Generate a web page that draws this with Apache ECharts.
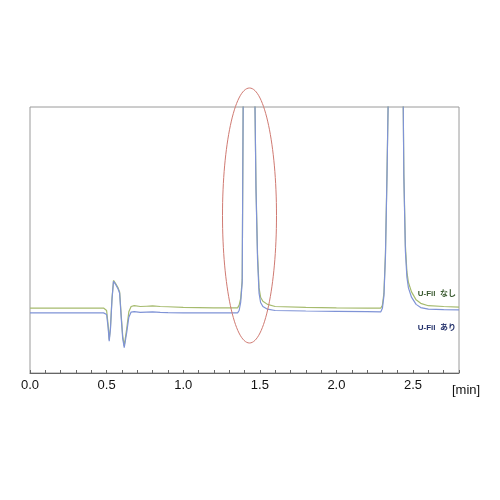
<!DOCTYPE html>
<html>
<head>
<meta charset="utf-8">
<script src="https://cdn.jsdelivr.net/npm/echarts@6/dist/echarts.min.js"></script>
<style>html,body{margin:0;padding:0;background:#fff}#c{width:500px;height:500px}</style>
</head>
<body>
<div id="c"></div>
<script>
// Time axis tick labels
const xTickLabels = ['0.0','0.5','1.0','1.5','2.0','2.5'];
const seriesNames = ['U-Fil  なし', 'U-Fil  あり'];

// U-Fil なし (green) trace: time [min], signal (arbitrary units, top of frame = 100)
const greenT = [0.00,0.48,0.50,0.51,0.517,0.525,0.535,0.545,0.55,0.56,0.575,0.585,0.595,0.605,0.615,0.622,0.632,0.645,0.66,0.68,0.72,0.76,0.80,0.85,0.90,1.00,1.10,1.20,1.30,1.355,1.365,1.375,1.385,1.395,1.43,1.46,1.475,1.485,1.495,1.505,1.52,1.55,1.60,1.80,2.00,2.20,2.29,2.30,2.31,2.32,2.33,2.34,2.39,2.43,2.44,2.45,2.46,2.47,2.49,2.52,2.55,2.60,2.70,2.80];
const greenV = [24.4,24.4,23.5,18,12.5,17,28,34.8,35.2,33.5,32,30.5,22,14,10.2,10.5,17,23,25.0,25.3,25.0,25.1,25.2,25.0,24.9,24.7,24.6,24.5,24.5,24.5,25.5,28,35,140,230,140,70,45,32,28.5,27,25.8,25.0,24.7,24.5,24.4,24.4,25.5,30,45,75,110,260,140,75,48,38,34,30.5,27.5,26.2,25.3,25.0,24.8];

// U-Fil あり (blue) trace
const blueT = [0.00,0.48,0.50,0.51,0.517,0.525,0.535,0.545,0.55,0.56,0.575,0.585,0.595,0.605,0.615,0.622,0.632,0.645,0.66,0.68,0.72,0.76,0.80,0.85,0.90,1.00,1.10,1.20,1.30,1.355,1.365,1.375,1.385,1.395,1.43,1.46,1.475,1.485,1.495,1.505,1.52,1.55,1.60,1.80,2.00,2.20,2.29,2.30,2.31,2.32,2.33,2.34,2.39,2.43,2.44,2.45,2.46,2.47,2.49,2.52,2.55,2.60,2.70,2.80];
const blueV = [22.6,22.6,22.0,17,12.0,16.5,27.5,34.5,35.0,33.2,31.6,30.0,21,13,9.5,9.8,15.5,21.0,22.9,23.1,22.8,22.9,23.0,22.8,22.7,22.6,22.6,22.6,22.6,22.6,23.5,26.5,34,140,230,140,69,43,30,26.5,25,24.0,23.5,23.3,23.2,23.1,23.0,24.3,29,44,74,110,260,140,74,46,36,32,28.5,25.8,24.6,24.0,23.8,23.7];

const green = greenT.map((t,i)=>[t, greenV[i]]);
const blue = blueT.map((t,i)=>[t, blueV[i]]);

const chart = echarts.init(document.getElementById('c'), null, {renderer:'canvas'});
chart.setOption({
  animation: false,
  backgroundColor: '#fff',
  grid: {left: 30, right: 41, top: 107, bottom: 127, show: true, borderColor: '#9a9a9a', borderWidth: 1, backgroundColor: 'transparent'},
  xAxis: {
    type: 'value', min: 0, max: 2.8, interval: 0.1,
    name: '[min]', nameLocation: 'end', nameGap: -7,
    nameTextStyle: {fontFamily: 'Liberation Sans, Arial', fontSize: 13, color: '#111', verticalAlign: 'top', align: 'left', padding: [11,0,0,0]},
    axisLine: {show: true, lineStyle: {color: '#666', width: 1}},
    axisTick: {show: true, inside: true, length: 3, lineStyle: {color: '#666'}},
    splitLine: {show: false},
    axisLabel: {
      margin: 6, fontFamily: 'Liberation Sans, Arial', fontSize: 13, color: '#111',
      formatter: function (v) {
        const k = v * 2;
        if (Math.abs(k - Math.round(k)) < 1e-6) {
          const idx = Math.round(k);
          return xTickLabels[idx] !== undefined ? xTickLabels[idx] : '';
        }
        return '';
      }
    }
  },
  yAxis: {type: 'value', min: 0, max: 100, show: false},
  series: [
    {name: seriesNames[0], type: 'line', data: green, showSymbol: false, clip: true, lineStyle: {color: '#a6bb6e', width: 1.2}, z: 2},
    {name: seriesNames[1], type: 'line', data: blue, showSymbol: false, clip: true, lineStyle: {color: '#7f93d6', width: 1.2}, z: 3}
  ],
  graphic: [
    {type: 'ellipse', shape: {cx: 249.5, cy: 215.5, rx: 27, ry: 127.5}, style: {fill: 'none', stroke: '#d07a72', lineWidth: 1}, z: 10},
    {type: 'text', x: 456, y: 294, style: {text: seriesNames[0], fontFamily: 'Liberation Sans, Arial, Noto Sans CJK JP', fontSize: 8, fontWeight: 'bold', fill: '#3a5a30', align: 'right', verticalAlign: 'middle'}, z: 10},
    {type: 'text', x: 456, y: 328, style: {text: seriesNames[1], fontFamily: 'Liberation Sans, Arial, Noto Sans CJK JP', fontSize: 8, fontWeight: 'bold', fill: '#22306a', align: 'right', verticalAlign: 'middle'}, z: 10}
  ]
});
</script>
</body>
</html>
